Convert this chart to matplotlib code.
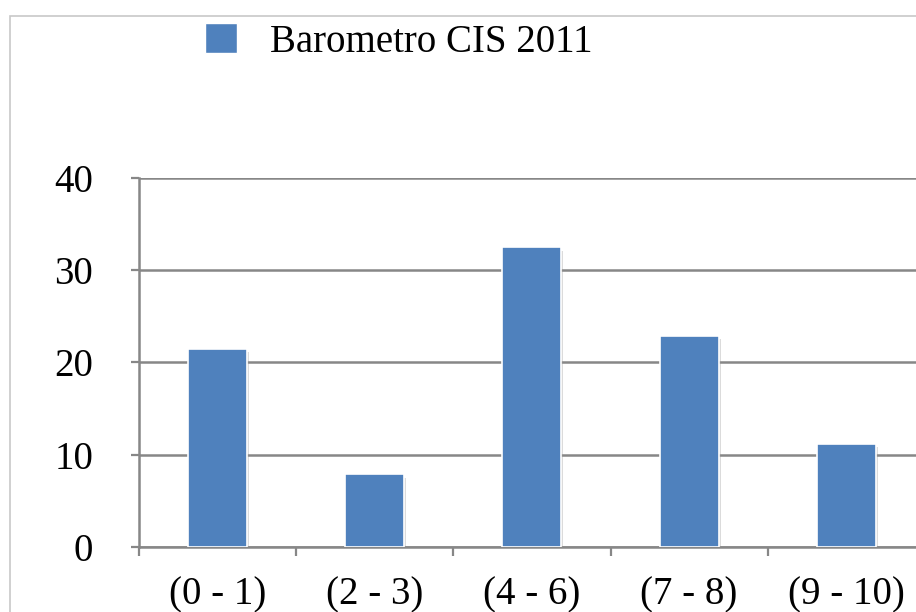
import matplotlib
matplotlib.use("Agg")
import matplotlib.pyplot as plt
import matplotlib.patheffects as pe
from matplotlib.patches import Rectangle, Patch
import numpy as np

# chart data
categories = ["(0 - 1)", "(2 - 3)", "(4 - 6)", "(7 - 8)", "(9 - 10)"]
values = [21.5, 7.9, 32.5, 22.9, 11.2]
series_name = "Barometro CIS 2011"
y_ticks = [0, 10, 20, 30, 40]

BAR_COLOR = "#4f81bd"
GRID_COLOR = "#878787"

plt.rcParams["font.family"] = ["Liberation Serif", "DejaVu Serif"]


def init_plot():
    # figure of 916x612 px, axes run past the right edge like the source
    fig = plt.figure(figsize=(9.16, 6.12), dpi=100)
    fig.patch.set_facecolor("white")
    ax = fig.add_axes([0.1517, 0.1062, 0.858, 0.603])
    # outer chart border, cropped on the right and bottom
    fig.patches.append(Rectangle((9.5 / 916, -0.1), 1.2, 1 - 16 / 612 + 0.1,
                                 transform=fig.transFigure, fill=False,
                                 edgecolor="#c8c8c8", linewidth=1.2))
    return fig, ax


def plot_bars(ax):
    x = np.arange(len(categories))
    bars = ax.bar(x, values, width=0.375, color=BAR_COLOR, edgecolor="white",
                  linewidth=1.2, zorder=3)
    for b in bars:
        b.set_path_effects([pe.SimplePatchShadow(offset=(1.5, -2.5), shadow_rgbFace="#9a9a9a",
                                                 alpha=0.35), pe.Normal()])
    ax.set_xlim(-0.5, len(categories) - 0.5)
    ax.set_ylim(0, 40)
    ax.set_yticks(y_ticks)
    ax.set_yticklabels([str(v) for v in y_ticks])
    # category labels at centres, tick marks at boundaries
    ax.set_xticks(x)
    ax.set_xticklabels(categories)
    ax.set_xticks(np.arange(-0.5, len(categories), 1.0), minor=True)
    ax.tick_params(axis="x", which="major", length=0, pad=21, labelsize=28)
    ax.tick_params(axis="x", which="minor", length=6.5, width=1.6, color=GRID_COLOR)
    ax.tick_params(axis="y", length=6, width=1.6, color=GRID_COLOR, pad=27, labelsize=28)
    ax.yaxis.grid(True, color=GRID_COLOR, linewidth=1.8, zorder=0)
    ax.set_axisbelow(True)
    for side in ["top", "right"]:
        ax.spines[side].set_visible(False)
    for side in ["left", "bottom"]:
        ax.spines[side].set_color(GRID_COLOR)
        ax.spines[side].set_linewidth(1.8)
    return ax


def main():
    fig, ax = init_plot()
    plot_bars(ax)
    handle = Patch(facecolor=BAR_COLOR, edgecolor="white", linewidth=1)
    fig.legend([handle], [series_name], loc="upper left",
               bbox_to_anchor=(205 / 916, 1 - 23 / 612), frameon=False,
               fontsize=28, handlelength=0.82, handleheight=0.82,
               handletextpad=0.85, borderpad=0, borderaxespad=0)
    fig.savefig("out.png", dpi=100, facecolor="white")


if __name__ == "__main__":
    main()
